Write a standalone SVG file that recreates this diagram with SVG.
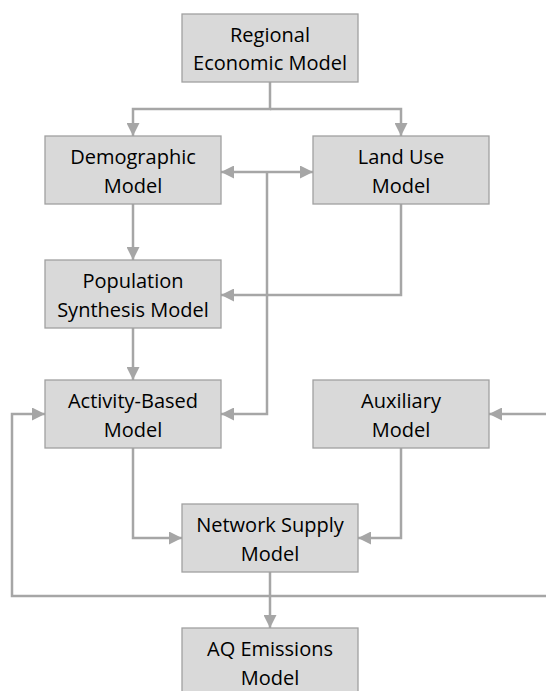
<svg xmlns="http://www.w3.org/2000/svg" width="546" height="691" viewBox="0 0 546 691">
<style>
.box{fill:#d9d9d9;stroke:#a0a0a0;stroke-width:1.3}
.lbl{font-family:"Open Sans","Liberation Sans",sans-serif;font-size:20px;fill:#000;text-anchor:middle}
.c{fill:none;stroke:#a6a6a6;stroke-width:2.5}
</style>
<defs>
<marker id="ah" markerUnits="userSpaceOnUse" markerWidth="13" markerHeight="13" viewBox="0 0 12 12" refX="12" refY="6" orient="auto">
<path d="M0,0 L12,6 L0,12 Z" fill="#a6a6a6"/>
</marker>
<marker id="ahs" markerUnits="userSpaceOnUse" markerWidth="13" markerHeight="13" viewBox="0 0 12 12" refX="0" refY="6" orient="auto">
<path d="M12,0 L0,6 L12,12 Z" fill="#a6a6a6"/>
</marker>
</defs>
<g id="connectors">
<path class="c" d="M270,82 V109 H133 V136" marker-end="url(#ah)"/>
<path class="c" d="M270,109 H401 V136" marker-end="url(#ah)"/>
<path class="c" d="M221,172 H313" marker-start="url(#ahs)" marker-end="url(#ah)"/>
<path class="c" d="M267,172 V414 H221" marker-end="url(#ah)"/>
<path class="c" d="M133,204 V260" marker-end="url(#ah)"/>
<path class="c" d="M401,204 V295 H221" marker-end="url(#ah)"/>
<path class="c" d="M133,328 V380" marker-end="url(#ah)"/>
<path class="c" d="M546,414 H489" marker-end="url(#ah)"/>
<path class="c" d="M546,596 H12 V414 H45" marker-end="url(#ah)"/>
<path class="c" d="M133,448 V538 H182" marker-end="url(#ah)"/>
<path class="c" d="M401,448 V538 H358" marker-end="url(#ah)"/>
<path class="c" d="M270,572 V628" marker-end="url(#ah)"/>
</g>
<g id="regional"><rect class="box" x="182" y="14" width="176" height="68"/><text class="lbl" x="270" y="41.5">Regional</text><text class="lbl" x="270" y="70">Economic Model</text></g>
<g id="demographic"><rect class="box" x="45" y="136" width="176" height="68"/><text class="lbl" x="133" y="164">Demographic</text><text class="lbl" x="133" y="192.5">Model</text></g>
<g id="landuse"><rect class="box" x="313" y="136" width="176" height="68"/><text class="lbl" x="401" y="164">Land Use</text><text class="lbl" x="401" y="192.5">Model</text></g>
<g id="population"><rect class="box" x="45" y="260" width="176" height="68"/><text class="lbl" x="133" y="288">Population</text><text class="lbl" x="133" y="316.5">Synthesis Model</text></g>
<g id="activity"><rect class="box" x="45" y="380" width="176" height="68"/><text class="lbl" x="133" y="408">Activity-Based</text><text class="lbl" x="133" y="436.5">Model</text></g>
<g id="auxiliary"><rect class="box" x="313" y="380" width="176" height="68"/><text class="lbl" x="401" y="408">Auxiliary</text><text class="lbl" x="401" y="436.5">Model</text></g>
<g id="network"><rect class="box" x="182" y="504" width="176" height="68"/><text class="lbl" x="270" y="532">Network Supply</text><text class="lbl" x="270" y="560.5">Model</text></g>
<g id="aq"><rect class="box" x="182" y="628" width="176" height="68"/><text class="lbl" x="270" y="656">AQ Emissions</text><text class="lbl" x="270" y="684.5">Model</text></g>
</svg>
